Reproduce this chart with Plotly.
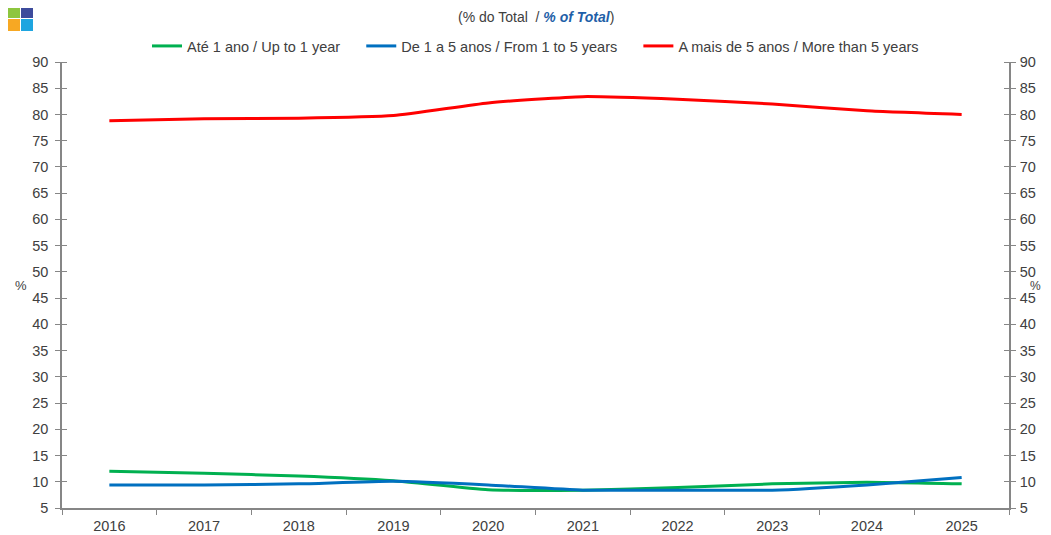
import plotly.graph_objects as go

years = ["2016", "2017", "2018", "2019", "2020", "2021", "2022", "2023", "2024", "2025"]
up_to_1 = [12.0, 11.6, 11.1, 10.2, 8.5, 8.4, 8.9, 9.6, 9.9, 9.6]
from_1_to_5 = [9.4, 9.4, 9.6, 10.1, 9.4, 8.4, 8.4, 8.4, 9.4, 10.8]
more_than_5 = [78.8, 79.2, 79.3, 79.8, 82.2, 83.4, 82.9, 82.0, 80.7, 80.0]

names = [
    "Até 1 ano / Up to 1 year",
    "De 1 a 5 anos / From 1 to 5 years",
    "A mais de 5 anos / More than 5 years",
]
colors = ["#00b050", "#0070c0", "#ff0000"]
series = [up_to_1, from_1_to_5, more_than_5]

y_ticks = list(range(5, 95, 5))
FONT = "Liberation Sans, Arial, sans-serif"
TXT = "#404040"
AX = "#868686"
PAD = "\u00a0" * 4

# page has an 8px body margin, so the figure is drawn 8px in from the top-left
W, H = 1043, 527
L, R, T, B = 54, 42, 54, 27
PW, PH = W - L - R, H - T - B

fig = go.Figure()
for i, (name, col, vals) in enumerate(zip(names, colors, series)):
    label = name + (PAD if i < len(names) - 1 else "")
    fig.add_trace(go.Scatter(
        x=years, y=vals, name=label, mode="lines",
        line=dict(color=col, width=3, shape="spline", smoothing=0.5),
    ))
# invisible trace to carry the right axis
fig.add_trace(go.Scatter(x=years, y=more_than_5, yaxis="y2", mode="lines",
                         line=dict(width=0), opacity=0, showlegend=False,
                         hoverinfo="skip"))

axis_common = dict(
    range=[5, 90], tickvals=y_ticks, showgrid=False, zeroline=False,
    showline=True, linecolor=AX, linewidth=1.5,
    ticks="outside", ticklen=5, tickcolor=AX, tickwidth=1,
    minor=dict(tickvals=y_ticks, ticks="inside", ticklen=5, tickcolor=AX, tickwidth=1),
    tickfont=dict(family=FONT, size=14.5, color=TXT),
)

fig.update_layout(
    width=W, height=H,
    margin=dict(l=L, r=R, t=T, b=B, autoexpand=False),
    paper_bgcolor="white", plot_bgcolor="white",
    font=dict(family=FONT, size=14.5, color=TXT),
    showlegend=True,
    legend=dict(orientation="h", x=0.5, xanchor="center", y=1.0, yanchor="bottom",
                font=dict(family=FONT, size=14.5, color=TXT),
                itemwidth=30, tracegroupgap=0, bgcolor="rgba(0,0,0,0)"),
    xaxis=dict(type="category", tickson="boundaries", showgrid=False, zeroline=False,
               showline=True, linecolor=AX, linewidth=1.5,
               ticks="outside", ticklen=5, tickcolor=AX,
               tickfont=dict(family=FONT, size=14.5, color=TXT), range=[-0.5, 9.5],
               ticklabelstandoff=4),
    yaxis=dict(**axis_common, side="left", ticklabelstandoff=4),
    yaxis2=dict(**axis_common, side="right", overlaying="y", ticklabelstandoff=1),
    annotations=[
        dict(xref="paper", yref="paper", x=0.5, y=1.0, yshift=45, showarrow=False,
             text="(% do Total  / <b><i><span style='color:#1f5fa8'>% of Total</span></i></b>)",
             font=dict(family=FONT, size=14, color=TXT), xanchor="center", yanchor="middle"),
        dict(xref="paper", yref="y", x=0, xshift=-41, y=47.4, showarrow=False, text="%",
             xanchor="center", yanchor="middle",
             font=dict(family=FONT, size=13, color=TXT)),
        dict(xref="paper", yref="y", x=1, xshift=34, y=47.4, showarrow=False, text="%",
             xanchor="right", yanchor="middle",
             font=dict(family=FONT, size=12, color=TXT)),
    ],
)

# logo (decorative squares), page coords converted to paper coords
logo = [(8, 6, "#8dc63f"), (21, 6, "#3d4b9c"), (8, 19, "#f7a823"), (21, 19, "#1ea5e0")]
for px, py, c in logo:
    fx, fy = px - 8, py - 8
    fig.add_shape(type="rect", xref="paper", yref="paper",
                  x0=(fx - L) / PW, x1=(fx + 12 - L) / PW,
                  y0=(T + PH - fy) / PH, y1=(T + PH - fy - 12) / PH,
                  fillcolor=c, line=dict(width=0), layer="above")

fig.write_html("out.html")
